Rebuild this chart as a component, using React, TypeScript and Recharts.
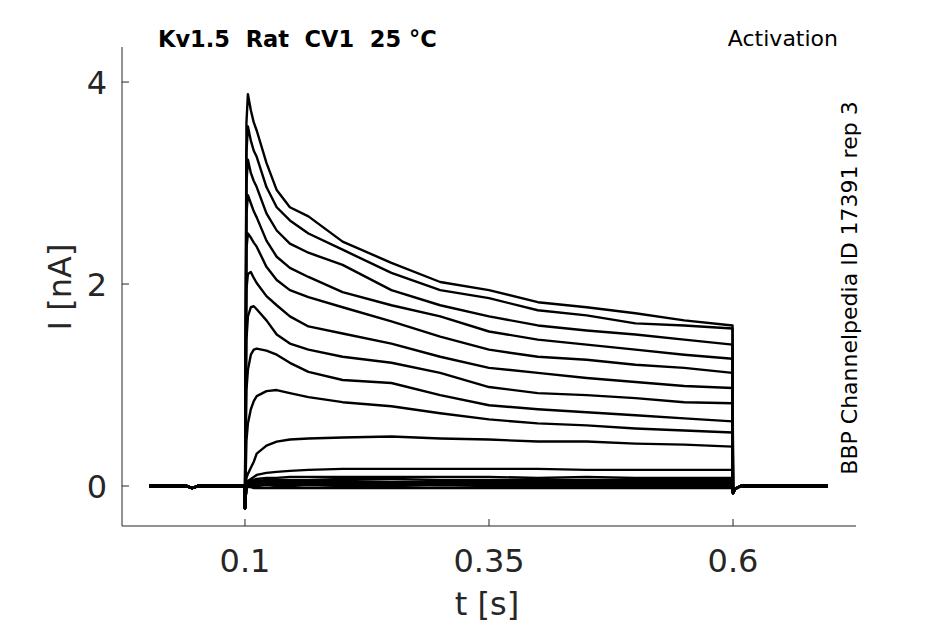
import React from 'react';
import { LineChart, Line, XAxis, YAxis } from 'recharts';

// sample times (s)
const times = [
  0.002, 0.04, 0.046, 0.052, 0.0995, 0.1,
  0.1015, 0.103, 0.106, 0.109, 0.112, 0.122, 0.1325, 0.146, 0.165,
  0.2, 0.25, 0.3, 0.35, 0.4, 0.45, 0.5, 0.55, 0.5995,
  0.6, 0.602, 0.608, 0.65, 0.697,
];

// holding level before the step, incl. capacitive dip at 0.1 s
const preStep = [0, 0, -0.02, 0, 0, -0.22];
// tail after the step back at 0.6 s
const postStep = [-0.07, -0.03, 0, 0, 0];

// current during the step (nA), one list per sweep, largest first
const sweep1 = [3.6, 3.88, 3.72, 3.6, 3.52, 3.2, 2.93, 2.76, 2.67, 2.42, 2.21, 2.02, 1.94, 1.82, 1.77, 1.71, 1.64, 1.59];
const sweep2 = [3.3, 3.56, 3.42, 3.32, 3.26, 2.96, 2.76, 2.63, 2.5, 2.34, 2.11, 1.94, 1.86, 1.74, 1.69, 1.61, 1.59, 1.56];
const sweep3 = [3.0, 3.23, 3.1, 3.02, 2.96, 2.7, 2.53, 2.4, 2.31, 2.19, 1.94, 1.79, 1.68, 1.59, 1.54, 1.5, 1.45, 1.4];
const sweep4 = [2.7, 2.88, 2.8, 2.72, 2.66, 2.43, 2.27, 2.16, 2.07, 1.92, 1.79, 1.68, 1.53, 1.45, 1.4, 1.35, 1.3, 1.26];
const sweep5 = [2.35, 2.5, 2.46, 2.41, 2.37, 2.17, 2.04, 1.94, 1.87, 1.77, 1.63, 1.48, 1.35, 1.28, 1.25, 1.2, 1.17, 1.12];
const sweep6 = [1.95, 2.1, 2.12, 2.06, 2.01, 1.88, 1.79, 1.68, 1.58, 1.51, 1.41, 1.28, 1.17, 1.12, 1.07, 1.03, 0.99, 0.97];
const sweep7 = [1.45, 1.68, 1.77, 1.78, 1.75, 1.64, 1.5, 1.41, 1.35, 1.28, 1.22, 1.12, 0.98, 0.92, 0.9, 0.87, 0.83, 0.82];
const sweep8 = [0.95, 1.15, 1.3, 1.35, 1.36, 1.34, 1.3, 1.22, 1.13, 1.05, 1.02, 0.9, 0.8, 0.76, 0.73, 0.7, 0.67, 0.64];
const sweep9 = [0.45, 0.62, 0.76, 0.84, 0.89, 0.94, 0.95, 0.92, 0.88, 0.83, 0.79, 0.72, 0.66, 0.62, 0.6, 0.57, 0.55, 0.53];
const sweep10 = [0.08, 0.12, 0.18, 0.24, 0.32, 0.4, 0.44, 0.46, 0.47, 0.48, 0.49, 0.47, 0.46, 0.44, 0.44, 0.42, 0.41, 0.39];
const sweep11 = [0.03, 0.05, 0.07, 0.09, 0.11, 0.13, 0.14, 0.15, 0.16, 0.17, 0.17, 0.17, 0.17, 0.17, 0.16, 0.16, 0.16, 0.16];
const sweep12 = [0.02, 0.04, 0.05, 0.06, 0.07, 0.08, 0.08, 0.09, 0.09, 0.09, 0.09, 0.09, 0.09, 0.08, 0.09, 0.08, 0.08, 0.08];
const sweep13 = [0.01, 0.03, 0.04, 0.05, 0.05, 0.06, 0.06, 0.06, 0.06, 0.07, 0.07, 0.06, 0.06, 0.06, 0.06, 0.06, 0.06, 0.06];
const sweep14 = [0.01, 0.02, 0.03, 0.03, 0.04, 0.04, 0.04, 0.04, 0.05, 0.05, 0.04, 0.04, 0.04, 0.04, 0.04, 0.04, 0.04, 0.04];
const sweep15 = [0, 0.01, 0.02, 0.02, 0.02, 0.03, 0.03, 0.03, 0.03, 0.03, 0.03, 0.03, 0.03, 0.03, 0.03, 0.02, 0.03, 0.02];
const sweep16 = [0, 0.01, 0.01, 0.01, 0.01, 0.02, 0.01, 0.02, 0.02, 0.01, 0.02, 0.01, 0.01, 0.02, 0.01, 0.01, 0.01, 0.01];
const sweep17 = [0, 0, 0, 0, 0, 0.01, 0, 0, 0.01, 0, 0, 0.01, 0, 0, 0, 0, 0, 0];
const sweep18 = [0, -0.01, -0.01, -0.02, -0.02, -0.02, -0.02, -0.02, -0.02, -0.02, -0.02, -0.02, -0.02, -0.02, -0.02, -0.02, -0.02, -0.02];

const sweeps = [
  sweep1, sweep2, sweep3, sweep4, sweep5, sweep6, sweep7, sweep8, sweep9,
  sweep10, sweep11, sweep12, sweep13, sweep14, sweep15, sweep16, sweep17, sweep18,
];

const xTicks = [0.1, 0.35, 0.6];
const yTicks = [0, 2, 4];

const rows = times.map((t, i) => {
  const row: any = { t };
  sweeps.forEach((s, k) => {
    row['s' + k] = [...preStep, ...s, ...postStep][i];
  });
  return row;
});

const font = '"DejaVu Sans", sans-serif';
const axisColor = '#262626';

const XTick = ({ x, y, payload }: any) => (
  <g>
    <line x1={x} x2={x} y1={y - 46} y2={y - 53} stroke={axisColor} />
    <text x={x} y={y} textAnchor="middle" fontSize={32} fontFamily={font} fill={axisColor}>
      {String(payload.value)}
    </text>
  </g>
);

const YTick = ({ x, y, payload }: any) => (
  <g>
    <line x1={x + 15} x2={x + 22} y1={y} y2={y} stroke={axisColor} />
    <text x={x} y={y + 11.5} textAnchor="end" fontSize={32} fontFamily={font} fill={axisColor}>
      {String(payload.value)}
    </text>
  </g>
);

export default function App() {
  return (
    <div style={{ position: 'absolute', left: 0, top: 0, width: 945, height: 624, background: '#fff' }}>
      <LineChart width={945} height={624} data={rows} margin={{ top: 47, right: 89, bottom: 0, left: 0 }}>
        <XAxis
          dataKey="t"
          type="number"
          domain={[-0.026, 0.726]}
          ticks={xTicks}
          interval={0}
          allowDataOverflow
          height={98}
          axisLine={{ stroke: axisColor }}
          tickLine={false}
          tickSize={0}
          tickMargin={46}
          tick={<XTick />}
        />
        <YAxis
          type="number"
          domain={[-0.396, 4.347]}
          ticks={yTicks}
          interval={0}
          allowDataOverflow
          width={122}
          axisLine={{ stroke: axisColor }}
          tickLine={false}
          tickSize={0}
          tickMargin={15}
          tick={<YTick />}
        />
        {sweeps.map((_, k) => (
          <Line
            key={k}
            dataKey={'s' + k}
            type="linear"
            stroke="#000"
            strokeWidth={2.4}
            strokeLinejoin="round"
            dot={false}
            activeDot={false}
            isAnimationActive={false}
          />
        ))}
        <text x={158} y={47} fontSize={22.5} fontWeight="bold" fontFamily={font} fill="#000" style={{ whiteSpace: 'pre' }}>
          {'Kv1.5  Rat  CV1  25 °C'}
        </text>
        <text x={838} y={46} fontSize={22} textAnchor="end" fontFamily={font} fill="#000">
          Activation
        </text>
        <text
          x={857}
          y={288}
          fontSize={22}
          textAnchor="middle"
          fontFamily={font}
          fill="#000"
          transform="rotate(-90 857 288)"
        >
          BBP Channelpedia ID 17391 rep 3
        </text>
        <text
          x={71}
          y={287}
          fontSize={32}
          textAnchor="middle"
          fontFamily={font}
          fill={axisColor}
          transform="rotate(-90 71 287)"
        >
          I [nA]
        </text>
        <text x={487} y={615} fontSize={32} textAnchor="middle" fontFamily={font} fill={axisColor}>
          t [s]
        </text>
      </LineChart>
    </div>
  );
}
